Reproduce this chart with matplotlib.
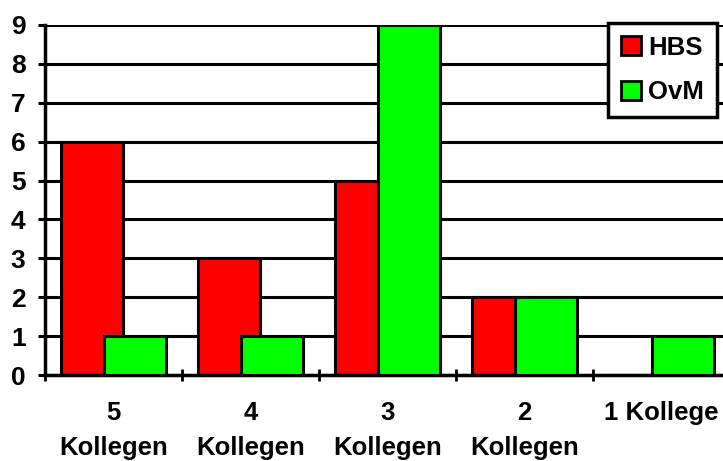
import numpy as np
import matplotlib.pyplot as plt

categories = ["5\nKollegen", "4\nKollegen", "3\nKollegen", "2\nKollegen", "1 Kollege"]
hbs = [6, 3, 5, 2, 0]
ovm = [1, 1, 9, 2, 1]

plt.rcParams['font.family'] = ['Liberation Sans', 'DejaVu Sans']
plt.rcParams['font.weight'] = 'bold'

fig = plt.figure(figsize=(7.23, 4.61), dpi=100)
ax = fig.add_axes([45 / 723, 86 / 461, 685 / 723, 350 / 461])

x = np.arange(len(categories))
w = 0.453
off = 0.157

ax.bar(x - off, hbs, w, color='#ff0000', edgecolor='black', linewidth=2.2, label='HBS', zorder=2)
ax.bar(x + off, ovm, w, color='#00ff00', edgecolor='black', linewidth=2.2, label='OvM', zorder=3)

ax.set_xlim(-0.5, len(categories) - 0.5)
ax.set_ylim(0, 9)
ax.set_yticks(range(0, 10))
ax.yaxis.grid(True, color='black', linewidth=2.2, zorder=0)
ax.set_axisbelow(True)

# category labels sit between the boundary ticks
ax.set_xticks(x)
ax.set_xticklabels(categories, fontsize=18.5, fontweight='bold', linespacing=1.58)
ax.set_xticks(np.arange(len(categories) + 1) - 0.5, minor=True)
ax.tick_params(axis='x', which='major', length=0, pad=19)
ax.tick_params(axis='x', which='minor', direction='inout', length=9, width=2)
ax.tick_params(axis='y', direction='out', length=5, width=2.2, labelsize=19, pad=9)
for t in ax.get_yticklabels():
    t.set_fontweight('bold')

for s in ['top', 'right']:
    ax.spines[s].set_visible(False)
ax.spines['left'].set_linewidth(2.5)
ax.spines['bottom'].set_linewidth(2.5)

leg = fig.legend(loc='upper right', bbox_to_anchor=(717 / 723, 1 - 23 / 461),
                 borderaxespad=0, fontsize=18.5, frameon=True, fancybox=False,
                 framealpha=1, edgecolor='black', handlelength=0.75, handleheight=0.75,
                 handletextpad=0.3, borderpad=0.5, labelspacing=0.8)
leg.get_frame().set_linewidth(2.5)
for h in leg.legend_handles:
    h.set_linewidth(2)
for t in leg.get_texts():
    t.set_fontweight('bold')

fig.savefig('out.png', dpi=100)
